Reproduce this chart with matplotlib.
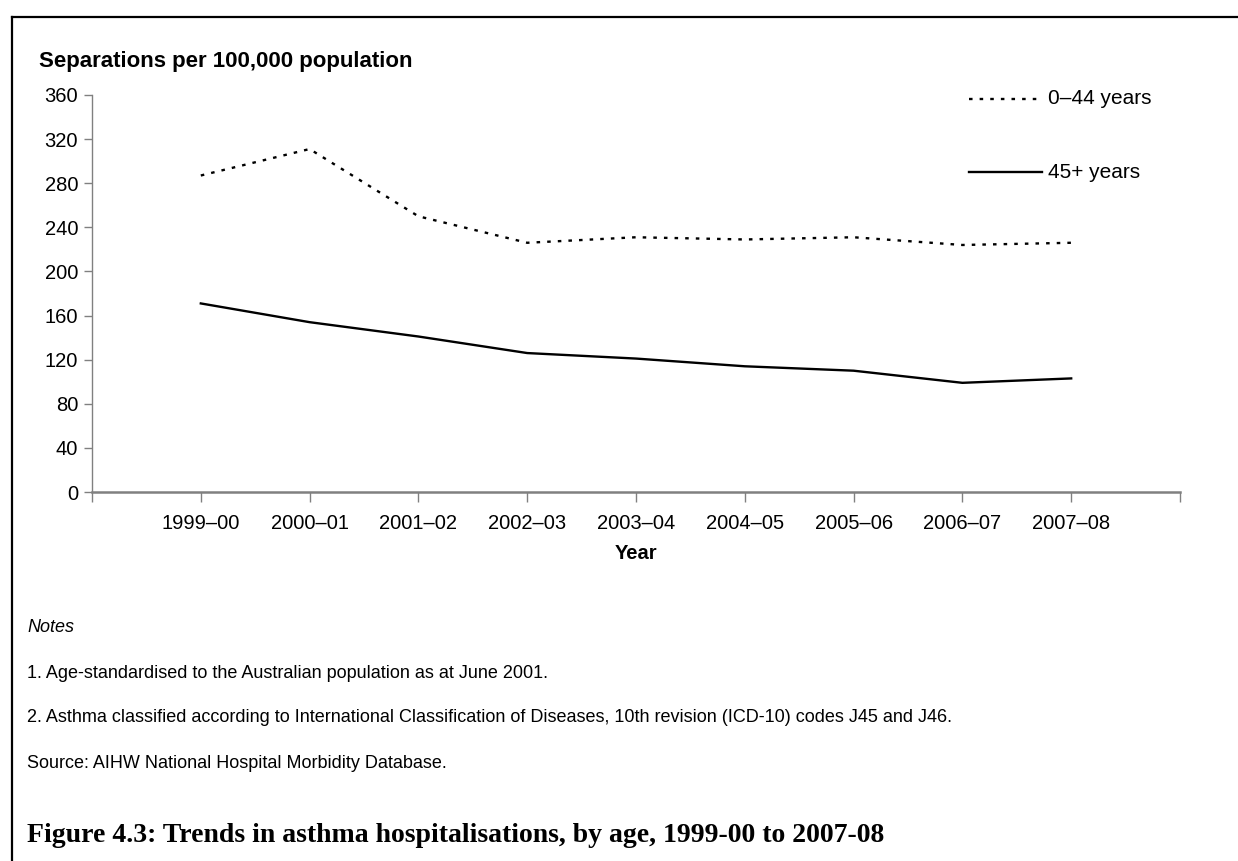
import matplotlib
matplotlib.use("Agg")
import matplotlib.pyplot as plt
from matplotlib.lines import Line2D

# --- DATA ---
years = ["1999–00", "2000–01", "2001–02", "2002–03", "2003–04",
         "2004–05", "2005–06", "2006–07", "2007–08"]
age_0_44 = [287, 311, 250, 226, 231, 229, 231, 224, 226]
age_45_plus = [171, 154, 141, 126, 121, 114, 110, 99, 103]
y_ticks = [0, 40, 80, 120, 160, 200, 240, 280, 320, 360]

notes = [
    "1. Age-standardised to the Australian population as at June 2001.",
    "2. Asthma classified according to International Classification of Diseases, "
    "10th revision (ICD-10) codes J45 and J46.",
    "Source: AIHW National Hospital Morbidity Database.",
]
caption = "Figure 4.3: Trends in asthma hospitalisations, by age, 1999-00 to 2007-08"

W, H = 1238, 861
plt.rcParams['font.family'] = ['Liberation Sans', 'DejaVu Sans']


def fx(px):
    return px / W


def fy(py):
    return 1 - py / H


fig = plt.figure(figsize=(W / 100, H / 100), dpi=100)
ax = fig.add_axes([fx(92), fy(492), fx(1180) - fx(92), fy(95) - fy(492)])

x = list(range(1, len(years) + 1))
dots = (0, (1.5, 3.0))
ax.plot(x, age_0_44, color='black', linewidth=1.7, linestyle=dots,
        dash_capstyle='butt')
ax.plot(x, age_45_plus, color='black', linewidth=1.7)

ax.set_xlim(0, 10)
ax.set_ylim(0, 360)
ax.set_yticks(y_ticks)
ax.tick_params(axis='y', labelsize=14.5, length=6, width=1, color='#808080', pad=4)
ax.set_xticks(range(0, 11))
ax.set_xticklabels([""] + years + [""])
ax.tick_params(axis='x', labelsize=14.5, length=7, width=1, color='#808080', pad=9)

for side in ['top', 'right']:
    ax.spines[side].set_visible(False)
ax.spines['left'].set_color('#808080')
ax.spines['left'].set_linewidth(1.0)
ax.spines['bottom'].set_color('#808080')
ax.spines['bottom'].set_linewidth(1.8)

ax.set_xlabel("Year", fontsize=14.5, fontweight='bold', labelpad=8)

# legend drawn as in the original: short line + label to its right
leg_x0, leg_x1 = fx(969), fx(1042)
fig.add_artist(Line2D([leg_x0, leg_x1], [fy(99), fy(99)], color='black',
                      linewidth=1.7, linestyle=dots))
fig.add_artist(Line2D([leg_x0, leg_x1], [fy(172), fy(172)], color='black',
                      linewidth=1.7))
fig.text(fx(1048), fy(99), "0–44 years", fontsize=15, va='center', ha='left')
fig.text(fx(1048), fy(172), "45+ years", fontsize=15, va='center', ha='left')

# y axis title above the axis
fig.text(fx(39), fy(62), "Separations per 100,000 population", fontsize=16,
         fontweight='bold', va='center', ha='left')

# notes and source
fig.text(fx(27), fy(628), "Notes", fontsize=13, style='italic', va='center')
for i, line in enumerate(notes):
    fig.text(fx(27), fy(673 + 45 * i), line, fontsize=13, va='center')

fig.text(fx(27), fy(836), caption, fontsize=20, fontweight='bold',
         family='Liberation Serif', va='center')

# frame around the figure (top and left edges visible)
fig.add_artist(Line2D([fx(12), fx(12)], [0, fy(17)], color='black', linewidth=1.6))
fig.add_artist(Line2D([fx(12), 1], [fy(17), fy(17)], color='black', linewidth=1.6))

fig.savefig("out.png", dpi=100)
